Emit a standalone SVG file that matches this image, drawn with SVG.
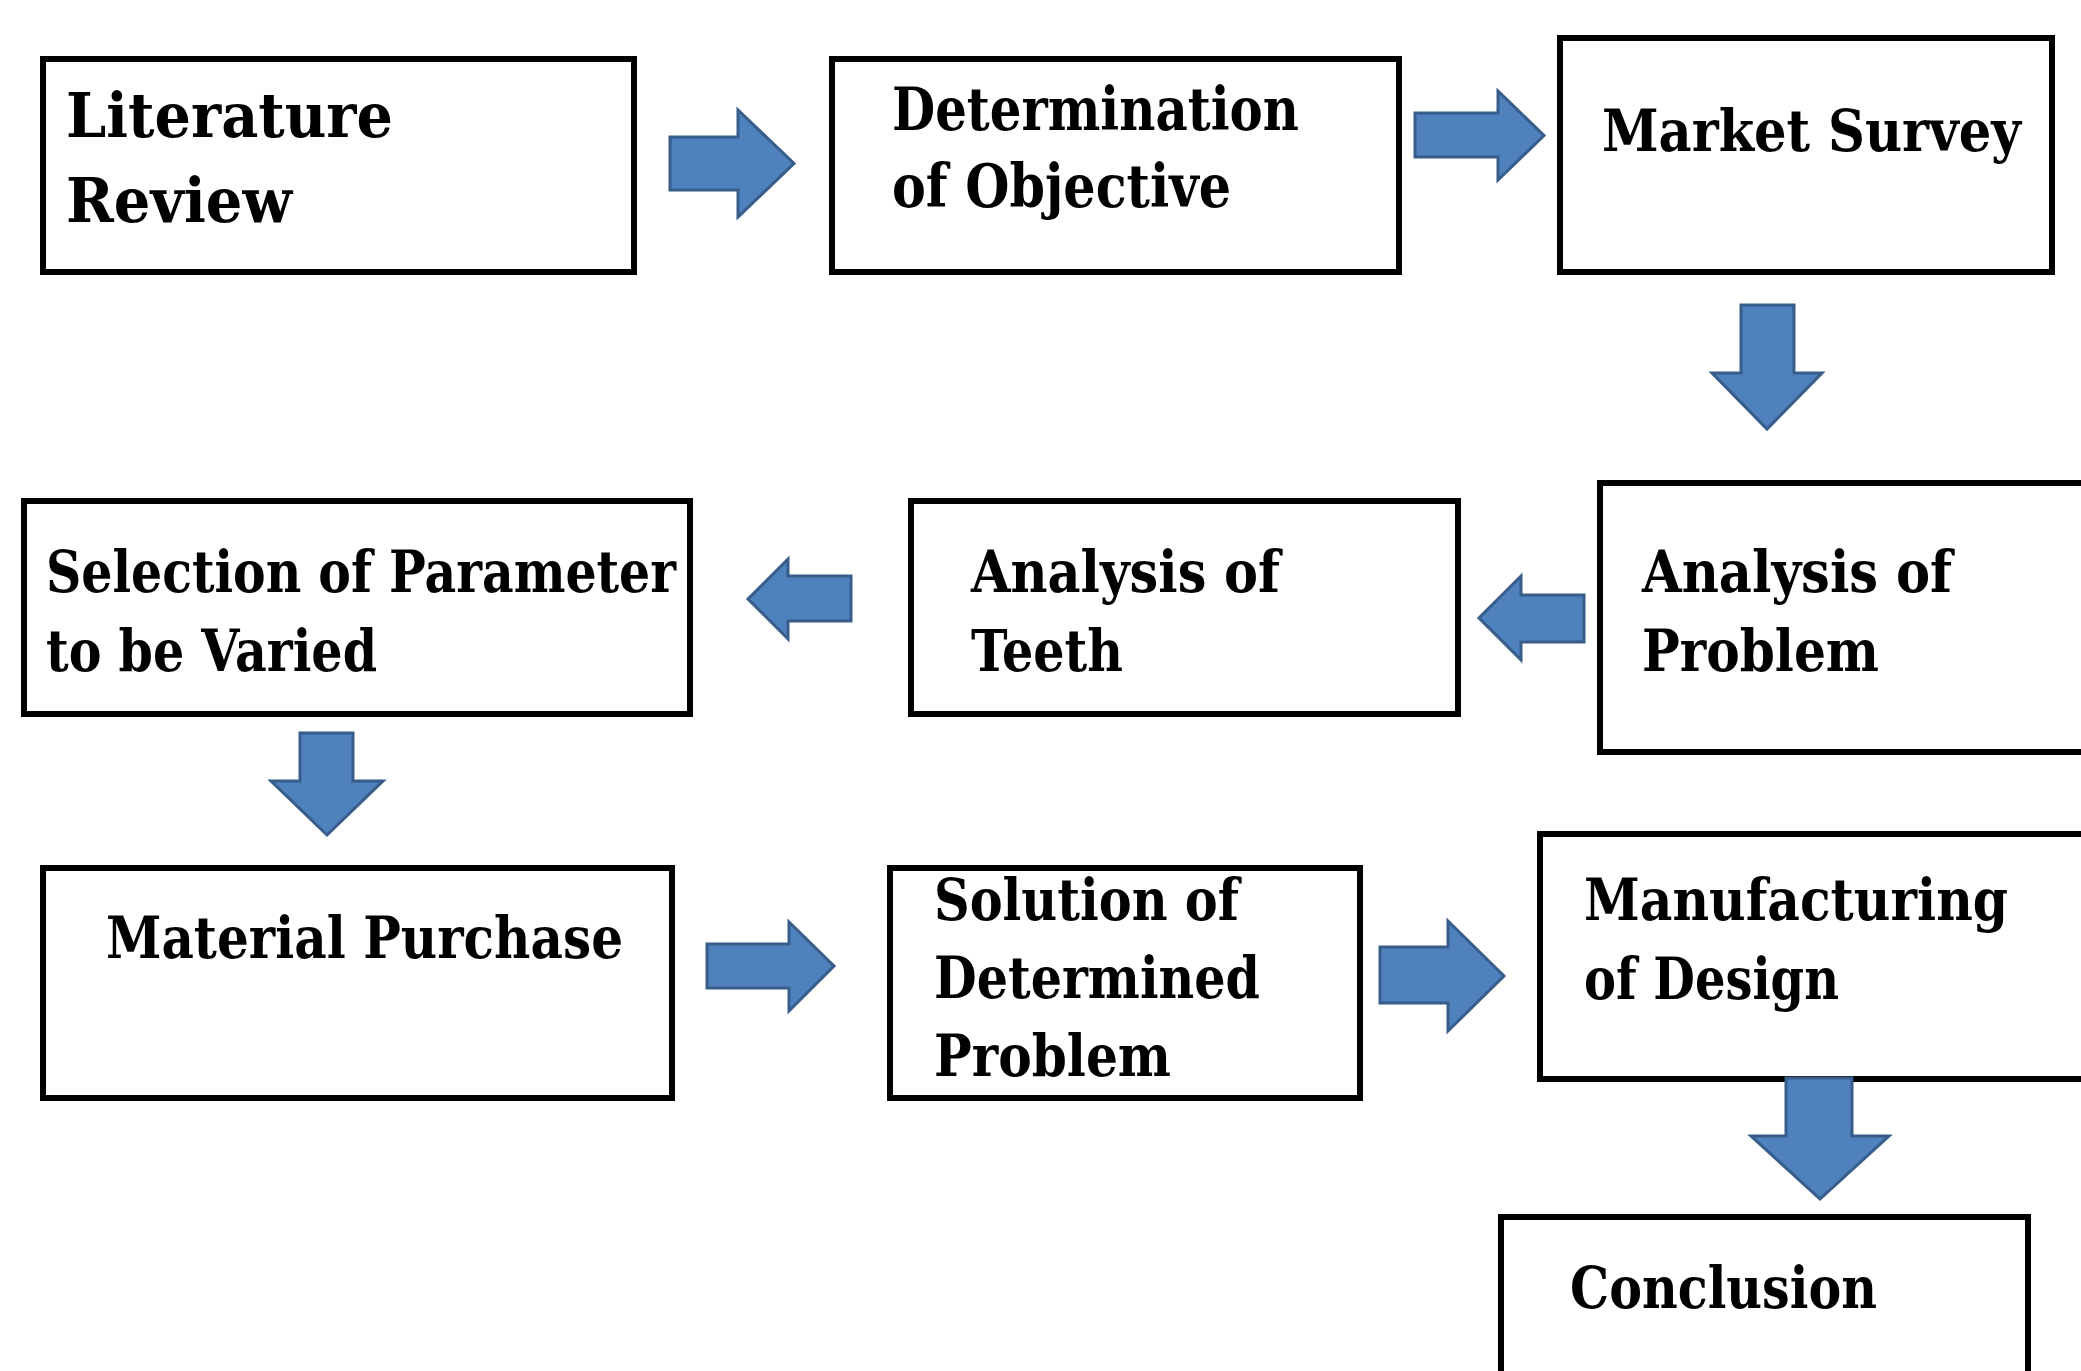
<svg xmlns="http://www.w3.org/2000/svg" width="2081" height="1371" viewBox="0 0 2081 1371">
<style>
.box{fill:#fff;stroke:#000;stroke-width:6}
.t{font-weight:700;font-size:58px;fill:#000}
.arr{fill:#4F81BD;stroke:#385D8A;stroke-width:3;stroke-linejoin:miter}
</style>
<rect width="2081" height="1371" fill="#fff"/>
<g font-family="DejaVu Serif, Liberation Serif, serif">
<g id="n1"><rect class="box" x="43" y="59" width="591" height="213"/>
<text class="t" style="font-size:62px" x="66" y="137" textLength="327" lengthAdjust="spacingAndGlyphs">Literature</text>
<text class="t" style="font-size:62px" x="66" y="222" textLength="226" lengthAdjust="spacingAndGlyphs">Review</text></g>
<g id="n2"><rect class="box" x="832" y="59" width="567" height="213"/>
<text class="t" style="font-size:59px" x="892" y="130" textLength="407" lengthAdjust="spacingAndGlyphs">Determination</text>
<text class="t" style="font-size:59px" x="892" y="207" textLength="339" lengthAdjust="spacingAndGlyphs">of Objective</text></g>
<g id="n3"><rect class="box" x="1560" y="38" width="492" height="234"/>
<text class="t" x="1602" y="151" textLength="419" lengthAdjust="spacingAndGlyphs">Market Survey</text></g>
<g id="n4"><rect class="box" x="1600" y="483" width="500" height="269"/>
<text class="t" x="1642" y="592" textLength="310" lengthAdjust="spacingAndGlyphs">Analysis of</text>
<text class="t" x="1642" y="671" textLength="237" lengthAdjust="spacingAndGlyphs">Problem</text></g>
<g id="n5"><rect class="box" x="911" y="501" width="547" height="213"/>
<text class="t" x="971" y="592" textLength="309" lengthAdjust="spacingAndGlyphs">Analysis of</text>
<text class="t" x="971" y="671" textLength="152" lengthAdjust="spacingAndGlyphs">Teeth</text></g>
<g id="n6"><rect class="box" x="24" y="501" width="666" height="213"/>
<text class="t" x="46" y="592" textLength="630" lengthAdjust="spacingAndGlyphs">Selection of Parameter</text>
<text class="t" x="46" y="671" textLength="331" lengthAdjust="spacingAndGlyphs">to be Varied</text></g>
<g id="n7"><rect class="box" x="43" y="868" width="629" height="230"/>
<text class="t" x="106" y="958" textLength="517" lengthAdjust="spacingAndGlyphs">Material Purchase</text></g>
<g id="n8"><rect class="box" x="890" y="868" width="470" height="230"/>
<text class="t" x="934" y="920" textLength="305" lengthAdjust="spacingAndGlyphs">Solution of</text>
<text class="t" x="934" y="998" textLength="326" lengthAdjust="spacingAndGlyphs">Determined</text>
<text class="t" x="934" y="1076" textLength="237" lengthAdjust="spacingAndGlyphs">Problem</text></g>
<g id="n9"><rect class="box" x="1540" y="834" width="560" height="245"/>
<text class="t" x="1584" y="920" textLength="424" lengthAdjust="spacingAndGlyphs">Manufacturing</text>
<text class="t" x="1584" y="999" textLength="255" lengthAdjust="spacingAndGlyphs">of Design</text></g>
<g id="n10"><rect class="box" x="1501" y="1217" width="527" height="200"/>
<text class="t" x="1570" y="1308" textLength="307" lengthAdjust="spacingAndGlyphs">Conclusion</text></g>
</g>
<g id="connectors">
<polygon class="arr" points="670,137 738,137 738,110 794,163.5 738,217 738,190 670,190"/>
<polygon class="arr" points="1415,113 1498,113 1498,91 1544,135.5 1498,180 1498,157 1415,157"/>
<polygon class="arr" points="1741,305 1794,305 1794,373 1822,373 1767,429 1712,373 1741,373"/>
<polygon class="arr" points="1584,595 1521,595 1521,576 1479,618 1521,660 1521,642 1584,642"/>
<polygon class="arr" points="851,576 788,576 788,559 748,599 788,639 788,621 851,621"/>
<polygon class="arr" points="300,733 353,733 353,781 383,781 327,835 271,781 300,781"/>
<polygon class="arr" points="707,944 789,944 789,922 834,966 789,1011 789,988 707,988"/>
<polygon class="arr" points="1380,947 1448,947 1448,921 1504,976 1448,1031 1448,1003 1380,1003"/>
<polygon class="arr" points="1786,1078 1852,1078 1852,1136 1889,1136 1820,1199 1751,1136 1786,1136"/>
</g>
</svg>
